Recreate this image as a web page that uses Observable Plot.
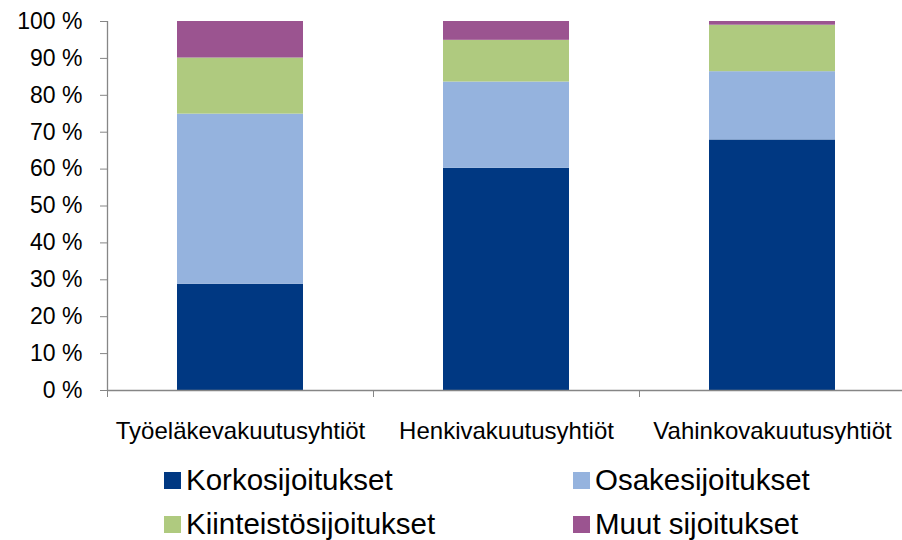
<!DOCTYPE html>
<html><head><meta charset="utf-8">
<script src="https://cdn.jsdelivr.net/npm/d3@7"></script>
<script src="https://cdn.jsdelivr.net/npm/@observablehq/plot@0.6"></script>
<style>
body{margin:0;background:#fff;font-family:"Liberation Sans",Arial,sans-serif;}
#wrap{position:relative;width:902px;height:540px;overflow:hidden;}
#chart svg{display:block;}
.item{position:absolute;display:flex;align-items:center;font-size:29.5px;color:#000;white-space:nowrap;}
.sw{width:17px;height:17px;margin-right:5px;flex:none;}
</style></head><body><div id="wrap"><div id="chart"></div></div>
<script>
const categories = ["Työeläkevakuutusyhtiöt", "Henkivakuutusyhtiöt", "Vahinkovakuutusyhtiöt"];
const seriesNames = ["Korkosijoitukset", "Osakesijoitukset", "Kiinteistösijoitukset", "Muut sijoitukset"];
const korko = [28.8, 60.2, 67.9];
const osake = [46.1, 23.4, 18.5];
const kiint = [15.2, 11.3, 12.6];
const muut = [9.9, 5.1, 1.0];
const colors = ["#003882", "#95b3de", "#afca7f", "#9b5490"];
const yTicks = [0, 10, 20, 30, 40, 50, 60, 70, 80, 90, 100];

const seriesValues = [korko, osake, kiint, muut];
const data = [];
seriesNames.forEach((s, i) => categories.forEach((c, j) => data.push({category: c, series: s, value: seriesValues[i][j]})));

const W = 902, H = 448, mL = 107, mR = -3, mT = 21, mB = 58;
const step = (W - mL - mR) / categories.length;
const gray = "#868686";

const chart = Plot.plot({
  width: W, height: H,
  marginLeft: mL, marginRight: mR, marginTop: mT, marginBottom: mB,
  style: {fontFamily: "'Liberation Sans', Arial, sans-serif", color: "#000", background: "#fff", overflow: "visible"},
  x: {domain: categories, paddingInner: 0.526, paddingOuter: 0.263, axis: null, label: null},
  y: {domain: [0, 100], axis: null, label: null},
  color: {domain: seriesNames, range: colors},
  marks: [
    Plot.barY(data, {x: "category", y: "value", fill: "series", order: seriesNames}),
    Plot.ruleY([0], {stroke: gray, strokeWidth: 1.3}),
    Plot.ruleX([categories[0]], {dx: -step / 2, stroke: gray, strokeWidth: 1.3}),
    Plot.axisY({ticks: yTicks, tickSize: 7, tickPadding: 18, tickFormat: d => d + " %", stroke: gray, fill: "#000", fontSize: 23, label: null}),
    Plot.axisX({tickSize: 7, tickFormat: () => "", dx: -step / 2, stroke: gray, label: null}),
    Plot.axisX({tickSize: 0, tickPadding: 31, fontSize: 24, fill: "#000", label: null})
  ]
});
document.getElementById("chart").appendChild(chart);

const legendPos = [[164, 463], [573, 463], [164, 507], [573, 507]];
const wrap = document.getElementById("wrap");
seriesNames.forEach((s, i) => {
  const d = document.createElement("div");
  d.className = "item";
  d.style.left = legendPos[i][0] + "px";
  d.style.top = legendPos[i][1] + "px";
  d.innerHTML = `<span class="sw" style="background:${colors[i]}"></span><span>${s}</span>`;
  wrap.appendChild(d);
});
</script></body></html>
